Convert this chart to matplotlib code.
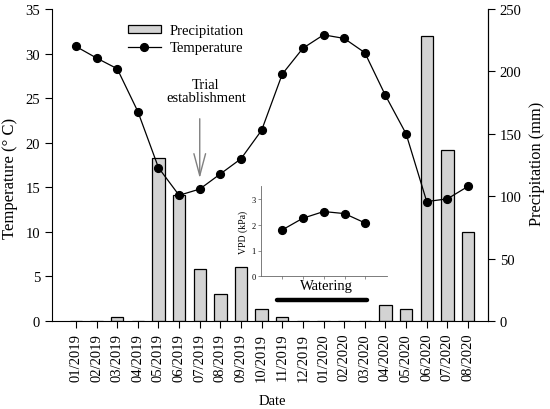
import matplotlib
matplotlib.use("Agg")
import matplotlib.pyplot as plt
import numpy as np

plt.rcParams['font.family'] = ['Liberation Serif', 'DejaVu Serif']
plt.rcParams['font.size'] = 10.5

months = ["01/2019", "02/2019", "03/2019", "04/2019", "05/2019", "06/2019",
          "07/2019", "08/2019", "09/2019", "10/2019", "11/2019", "12/2019",
          "01/2020", "02/2020", "03/2020", "04/2020", "05/2020", "06/2020",
          "07/2020", "08/2020"]
temperature = [30.8, 29.5, 28.3, 23.5, 17.2, 14.1, 14.8, 16.5, 18.2, 21.4,
               27.7, 30.6, 32.1, 31.7, 30.1, 25.3, 21.0, 13.4, 13.7, 15.1]
precipitation = [0, 0, 3.4, 0, 131, 101, 42, 21.5, 43.5, 9.6,
                 3.2, 0, 0, 0, 0, 13, 10, 228, 137, 71]
vpd_months = ["11/2019", "12/2019", "01/2020", "02/2020", "03/2020"]
vpd = [1.79, 2.25, 2.51, 2.43, 2.06]

fig = plt.figure(figsize=(5.5, 4.1), dpi=100)
ax = fig.add_axes([52/550, 1-322/410, (488-52)/550, (322-10)/410])
ax2 = ax.twinx()

x = np.arange(len(months))
ax2.bar(x, precipitation, width=0.6, color='#d3d3d3', edgecolor='black',
        linewidth=0.9, label='Precipitation')
ax.plot(x, temperature, color='black', lw=0.9, marker='o', markersize=5.6,
        label='Temperature')

ax.set_zorder(ax2.get_zorder() + 1)
ax.patch.set_visible(False)

ax.set_xlim(-1.16, 19.97)
ax.set_ylim(0, 35)
ax2.set_ylim(0, 250)
ax.set_yticks(np.arange(0, 36, 5))
ax2.set_yticks(np.arange(0, 251, 50))
ax.set_xticks(x)
ax.set_xticklabels(months, rotation=90)
for a in (ax, ax2):
    a.spines['top'].set_visible(False)
    a.tick_params(direction='out', length=5, width=0.8)
ax2.spines['left'].set_visible(False)
ax2.spines['bottom'].set_visible(False)

ax.set_ylabel('Temperature (° C)', fontsize=12, ha='center', va='center')
ax.yaxis.set_label_coords(-0.0963, 0.46)
ax2.set_ylabel('Precipitation (mm)', fontsize=11.8, ha='center', va='center')
ax2.yaxis.set_label_coords(1.1135, 0.506)
ax.set_xlabel('Date', ha='center', va='center')
ax.xaxis.set_label_coords(0.506, -0.2554)

# legend
h1, l1 = ax2.get_legend_handles_labels()
h2, l2 = ax.get_legend_handles_labels()
ax.legend(h1 + h2, l1 + l2, loc='upper left', bbox_to_anchor=(0.1736, 0.952),
          frameon=False, borderaxespad=0, borderpad=0, handlelength=2.3,
          handleheight=0.5, labelspacing=0.3, handletextpad=0.6)

# Trial establishment annotation
ax.annotate('', xy=(6, 15.7), xytext=(6, 23.0),
            arrowprops=dict(arrowstyle='->,head_length=1.5,head_width=0.4',
                            color='#808080', lw=1.0))
ax.text(6.3, 25.85, 'Trial\nestablishment', ha='center', va='center',
        linespacing=1.0)

# Watering
ax.text(12.15, 3.93, 'Watering', ha='center', va='center')
ax.plot([9.73, 14.09], [2.4, 2.4], color='black', lw=3.2, solid_capstyle='round')

# inset VPD
axi = fig.add_axes([261/550, 1-277.3/410, (387-261)/550, (277.3-187)/410])
axi.plot(np.arange(len(vpd)), vpd, color='black', lw=0.9, marker='o', markersize=5.6)
axi.set_xlim(-1, 5.03)
axi.set_ylim(0, 3.5)
axi.set_yticks([0, 1, 2, 3])
axi.set_xticks(np.arange(len(vpd)))
axi.set_xticklabels([])
axi.patch.set_visible(False)
for s in ('top', 'right'):
    axi.spines[s].set_visible(False)
for s in ('left', 'bottom'):
    axi.spines[s].set_color('#666666')
    axi.spines[s].set_linewidth(0.6)
axi.tick_params(direction='out', length=2, width=0.5, colors='#666666',
                labelsize=6, labelcolor='black', pad=2)
axi.set_ylabel('VPD (kPa)', fontsize=7, labelpad=2)

fig.savefig('out.png', dpi=100)
